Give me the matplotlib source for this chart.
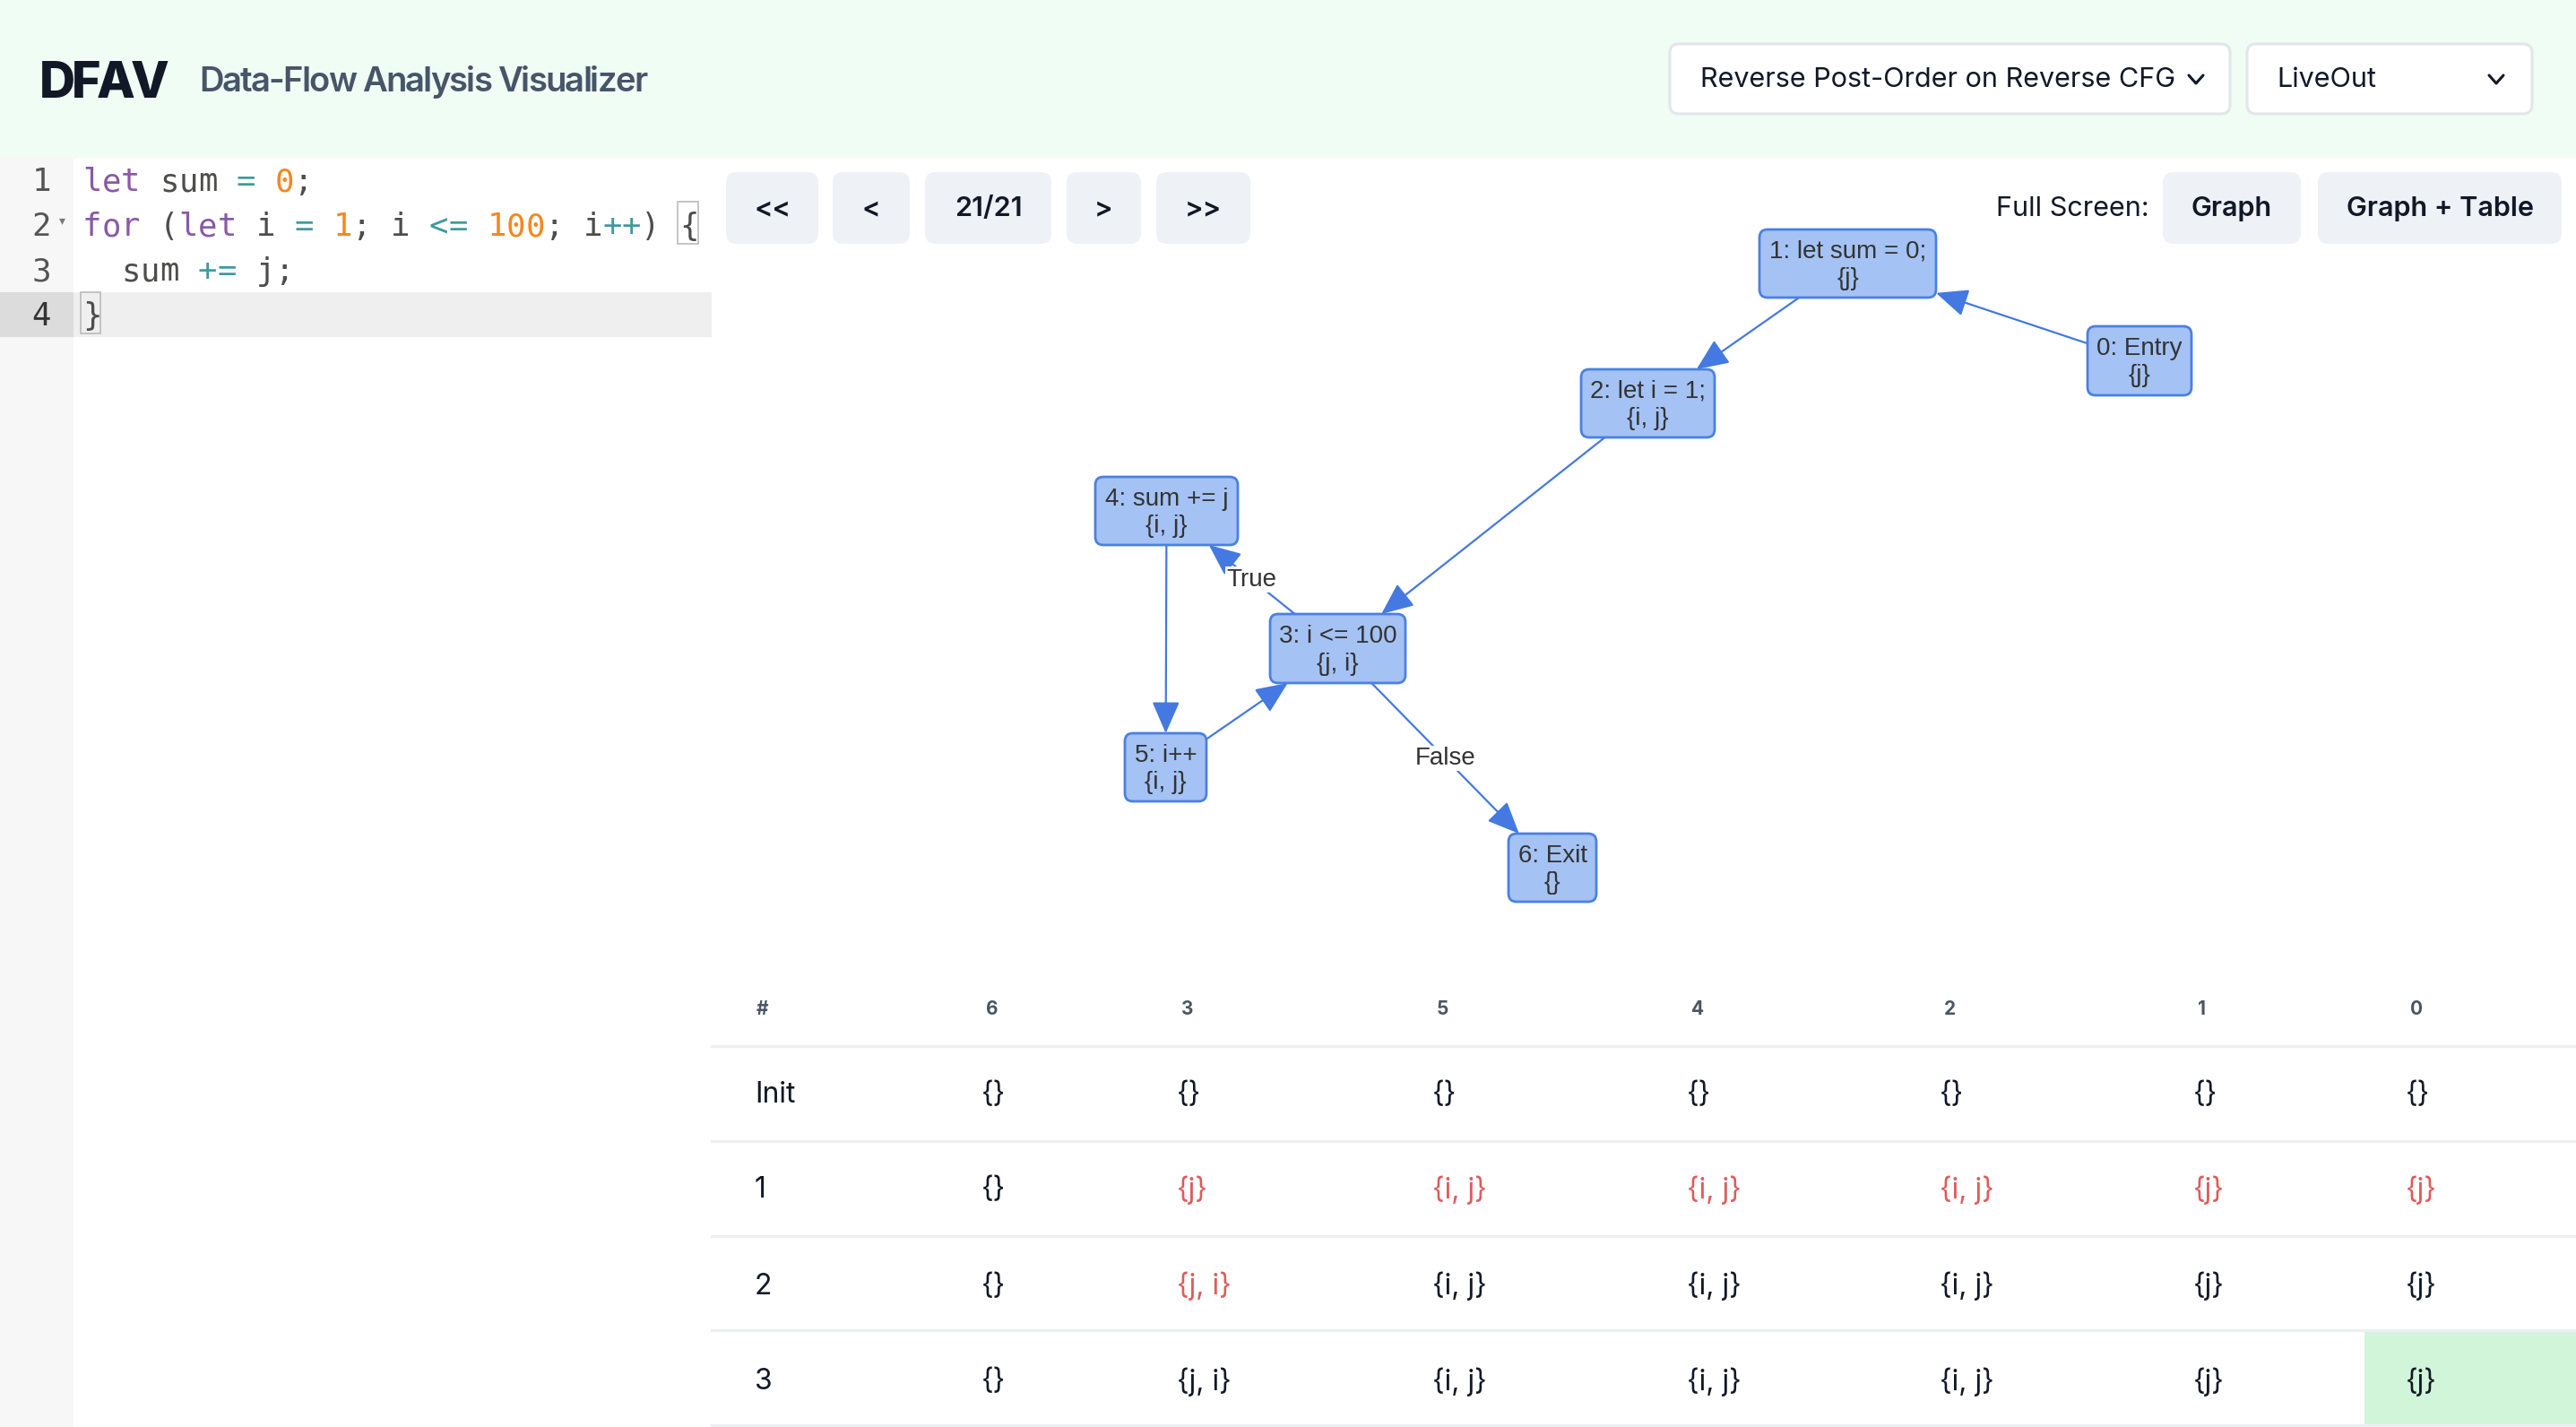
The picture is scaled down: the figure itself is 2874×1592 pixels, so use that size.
import matplotlib
matplotlib.use("Agg")
import matplotlib.pyplot as plt
from matplotlib.patches import FancyBboxPatch, Rectangle
from matplotlib.font_manager import FontProperties, findfont
from matplotlib.ft2font import FT2Font, LOAD_NO_HINTING

# ---------------- data ----------------
app_name = "DFAV"
app_title = "Data-Flow Analysis Visualizer"
order_option = "Reverse Post-Order on Reverse CFG"
analysis_option = "LiveOut"
nav_labels = ["<<", "<", "21/21", ">", ">>"]
fullscreen_label = "Full Screen:"
fullscreen_buttons = ["Graph", "Graph + Table"]

code_lines = [
    [("let", "kw"), (" sum ", "tx"), ("=", "op"), (" ", "tx"), ("0", "num"), (";", "tx")],
    [("for", "kw"), (" (", "tx"), ("let", "kw"), (" i ", "tx"), ("=", "op"), (" ", "tx"),
     ("1", "num"), ("; i ", "tx"), ("<=", "op"), (" ", "tx"), ("100", "num"), ("; i", "tx"),
     ("++", "op"), (") {", "tx")],
    [("  sum ", "tx"), ("+=", "op"), (" j;", "tx")],
    [("}", "tx")],
]

node_ids = [0, 1, 2, 3, 4, 5, 6]
node_stmts = ["Entry", "let sum = 0;", "let i = 1;", "i <= 100", "sum += j", "i++", "Exit"]
node_sets = ["{j}", "{j}", "{i, j}", "{j, i}", "{i, j}", "{i, j}", "{}"]
edges = [(0, 1, ""), (1, 2, ""), (2, 3, ""), (3, 4, "True"), (4, 5, ""), (5, 3, ""), (3, 6, "False")]

table_cols = ["6", "3", "5", "4", "2", "1", "0"]
table_rows = ["Init", "1", "2", "3"]
table_vals = [
    ["{}", "{}", "{}", "{}", "{}", "{}", "{}"],
    ["{}", "{j}", "{i, j}", "{i, j}", "{i, j}", "{j}", "{j}"],
    ["{}", "{j, i}", "{i, j}", "{i, j}", "{i, j}", "{j}", "{j}"],
    ["{}", "{j, i}", "{i, j}", "{i, j}", "{i, j}", "{j}", "{j}"],
]
table_changed = [
    [0, 0, 0, 0, 0, 0, 0],
    [0, 1, 1, 1, 1, 1, 1],
    [0, 1, 0, 0, 0, 0, 0],
    [0, 0, 0, 0, 0, 0, 0],
]
current_cell = (3, 6)

# ---------------- layout / style ----------------
W, H = 2874, 1592
DPI = 100
PT = 72.0 / DPI  # points per pixel
UI = "Inter"
GRAPH_FONT = "Liberation Sans"
MONO = "DejaVu Sans Mono"

fig = plt.figure(figsize=(W / DPI, H / DPI), dpi=DPI)
ax = fig.add_axes([0, 0, 1, 1])
ax.set_xlim(0, W)
ax.set_ylim(H, 0)
ax.axis("off")

def rbox(x0, y0, x1, y1, fc, ec="none", lw=0, r=10, z=1):
    p = FancyBboxPatch((x0, y0), x1 - x0, y1 - y0,
                       boxstyle=f"round,pad=0,rounding_size={r}",
                       fc=fc, ec=ec, lw=lw, zorder=z)
    ax.add_patch(p)
    return p

def tracked_text(x, y, s, size, weight, family, color, tracking_px, z=3):
    """Draw text character by character with tightened letter spacing."""
    prop = FontProperties(family=family, weight=weight, size=size)
    font = FT2Font(findfont(prop))
    font.set_size(size, DPI)
    pen = x
    for ch in s:
        g = font.load_char(ord(ch), flags=LOAD_NO_HINTING)
        adv = g.linearHoriAdvance / 65536.0
        if ch != " ":
            ax.text(pen, y, ch, fontproperties=prop, color=color, ha="left",
                    va="baseline", zorder=z)
        pen += adv + tracking_px

# header
ax.add_patch(Rectangle((0, 0), W, 176, fc="#f0fdf4", ec="none", zorder=0))
tracked_text(44, 109, app_name, 40, "heavy", UI, "#111827", -4.5)
tracked_text(222, 102, app_title, 27.5, "semibold", UI, "#475569", -1.8)

# dropdowns
rbox(1863, 49, 2488, 127, fc="white", ec="#e2e6ec", lw=2.2, r=10, z=2)
rbox(2507, 49, 2825, 127, fc="white", ec="#e2e6ec", lw=2.2, r=10, z=2)
ax.text(1897, 89, order_option, fontsize=22, family=UI, color="#111827", va="center", ha="left", zorder=3)
ax.text(2540, 89, analysis_option, fontsize=22, family=UI, color="#111827", va="center", ha="left", zorder=3)
for cx in (2450, 2785):
    ax.plot([cx - 8, cx, cx + 8], [84, 93, 84], color="#111827", lw=2.2, zorder=3,
            solid_capstyle="round", solid_joinstyle="round")

# code editor
ax.add_patch(Rectangle((0, 176), 82, H - 176, fc="#f7f7f7", ec="none", zorder=0))
ax.add_patch(Rectangle((82, 326), 794 - 82, 50, fc="#efefef", ec="none", zorder=0.5))
ax.add_patch(Rectangle((0, 326), 82, 50, fc="#dcdcdc", ec="none", zorder=0.5))
code_fs = 25.7
cw = code_fs / PT * 0.602
code_colors = {"kw": "#8959a8", "tx": "#4d4d4c", "op": "#3e999f", "num": "#f5871f"}
for i, line in enumerate(code_lines):
    base = 213 + 50 * i
    ax.text(57, base, str(i + 1), fontsize=code_fs, family=MONO,
            color="#333333" if i == 3 else "#555555", ha="right", va="baseline", zorder=2)
    col = 0
    for tok, kind in line:
        for ch in tok:
            if ch != " ":
                ax.text(92 + col * cw, base, ch, fontsize=code_fs, family=MONO,
                        color=code_colors[kind], ha="left", va="baseline", zorder=2)
            col += 1
# fold marker and bracket match boxes
ax.text(69, 246, "\u25be", fontsize=10, family="DejaVu Sans", color="#777777", ha="center", va="center")
brace_col = sum(len(t) for t, _ in code_lines[1]) - 1
ax.add_patch(Rectangle((92 + brace_col * cw - 2, 225), cw + 1, 47, fc="none", ec="#bbbbbb", lw=1.2, zorder=1.5))
ax.add_patch(Rectangle((90, 326), cw + 1, 46, fc="none", ec="#bbbbbb", lw=1.2, zorder=1.5))

# nav buttons
nav_x = [(810, 913), (929, 1015), (1032, 1173), (1190, 1273), (1290, 1395)]
for (x0, x1), lab in zip(nav_x, nav_labels):
    rbox(x0, 192, x1, 272, fc="#eef1f6", r=12, z=1)
    ax.text((x0 + x1) / 2, 233, lab, fontsize=22, fontweight="semibold", family=UI,
            color="#111827", ha="center", va="center", zorder=2)
ax.text(2227, 233, fullscreen_label, fontsize=22, family=UI, color="#111827", ha="left", va="center")
fs_x = [(2413, 2567), (2586, 2858)]
for (x0, x1), lab in zip(fs_x, fullscreen_buttons):
    rbox(x0, 192, x1, 272, fc="#eef1f6", r=12, z=1)
    ax.text((x0 + x1) / 2, 233, lab, fontsize=22, fontweight="semibold", family=UI,
            color="#111827", ha="center", va="center", zorder=2)

# graph
node_box = {  # x0, y0, x1, y1 in pixels
    0: (2329, 364, 2445, 441),
    1: (1963, 256, 2160, 332),
    2: (1764, 412, 1913, 488),
    3: (1417, 685, 1568, 762),
    4: (1222, 532, 1381, 608),
    5: (1255, 818, 1346, 894),
    6: (1683, 930, 1781, 1006),
}
node_fc = "#a4c2f4"
node_ec = "#4a80e4"
edge_c = "#4479e1"

def center(n):
    x0, y0, x1, y1 = node_box[n]
    return (x0 + x1) / 2, (y0 + y1) / 2

def clip(n, dx, dy):
    x0, y0, x1, y1 = node_box[n]
    cx, cy = center(n)
    hw, hh = (x1 - x0) / 2, (y1 - y0) / 2
    ts = []
    if dx != 0:
        ts.append(hw / abs(dx))
    if dy != 0:
        ts.append(hh / abs(dy))
    t = min(ts)
    return cx + dx * t, cy + dy * t

for nid, stmt, s in zip(node_ids, node_stmts, node_sets):
    x0, y0, x1, y1 = node_box[nid]
    rbox(x0, y0, x1, y1, fc=node_fc, ec=node_ec, lw=2.0, r=9, z=3)
    cx, cy = center(nid)
    ax.text(cx, cy - 6.5, f"{nid}: {stmt}", fontsize=20, family=GRAPH_FONT,
            color="#333333", ha="center", va="baseline", zorder=4)
    ax.text(cx, cy + 24, s, fontsize=20, family=GRAPH_FONT,
            color="#333333", ha="center", va="baseline", zorder=4)

for a, b, lab in edges:
    ax_, ay_ = center(a)
    bx_, by_ = center(b)
    dx, dy = bx_ - ax_, by_ - ay_
    sx, sy = clip(a, dx, dy)
    ex, ey = clip(b, -dx, -dy)
    ax.annotate("", xy=(ex, ey), xytext=(sx, sy),
                arrowprops=dict(arrowstyle="-|>,head_length=0.55,head_width=0.24",
                                color=edge_c, lw=1.6, shrinkA=0, shrinkB=0,
                                mutation_scale=40), zorder=2)
    if lab:
        ax.text((sx + ex) / 2, (sy + ey) / 2, lab, fontsize=20, family=GRAPH_FONT, color="#333333",
                ha="center", va="center", zorder=3,
                bbox=dict(boxstyle="square,pad=0.05", fc="white", ec="none"))

# table
col_x = [1100, 1318, 1603, 1887, 2169, 2452, 2689]
row_y = [1222, 1328, 1435, 1542]
line_y = [1167, 1273, 1379, 1484, 1590]
gx0, gy0 = col_x[current_cell[1]] - 51, line_y[current_cell[0]] + 2
ax.add_patch(Rectangle((gx0, gy0), W - gx0, line_y[current_cell[0] + 1] - gy0 - 1,
                       fc="#d1f5d8", ec="none", zorder=0.5))
for y in line_y:
    ax.plot([794, W], [y, y], color="#eceff3", lw=2.4, zorder=1)
ax.text(844, 1126, "#", fontsize=15, fontweight="bold", family=UI, color="#4b5563", ha="left", va="center")
for x, c in zip(col_x, table_cols):
    ax.text(x, 1126, c, fontsize=15, fontweight="bold", family=UI, color="#4b5563", ha="left", va="center")
for r, (y, rl) in enumerate(zip(row_y, table_rows)):
    ax.text(842, y, rl, fontsize=23, family=UI, color="#111827", ha="left", va="center")
    for c, x in enumerate(col_x):
        ax.text(x - 5, y, table_vals[r][c], fontsize=23, family=UI,
                color="#e05b5b" if table_changed[r][c] else "#111827",
                ha="left", va="center", zorder=2)

fig.savefig("out.png", dpi=DPI, facecolor="white")
